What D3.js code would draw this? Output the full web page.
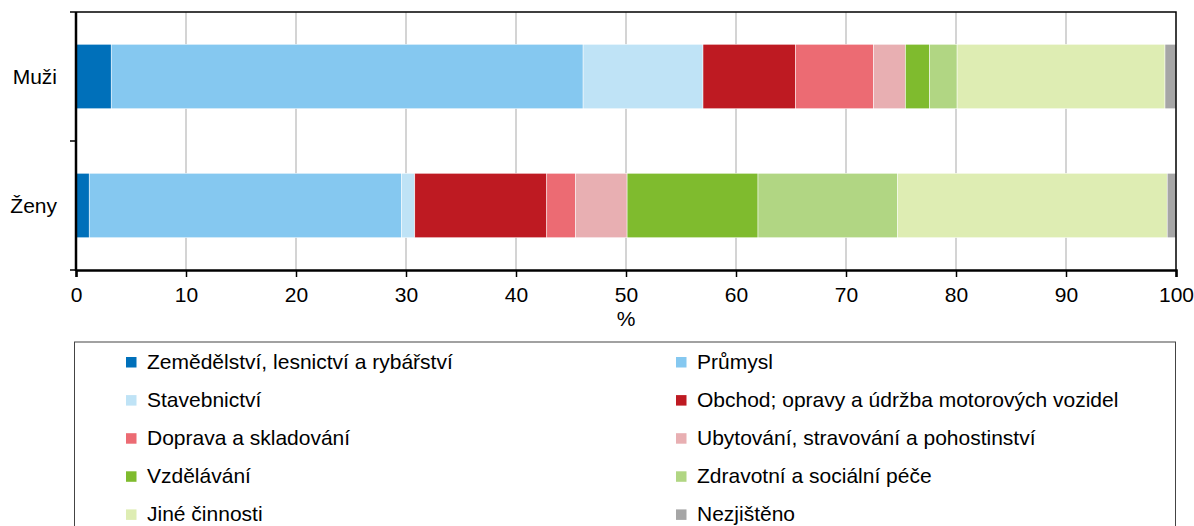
<!DOCTYPE html>
<html>
<head>
<meta charset="utf-8">
<script src="https://cdn.jsdelivr.net/npm/d3@7"></script>
<style>
  body { margin: 0; background: #fff; }
  svg { font-family: "Liberation Sans", Arial, sans-serif; }
</style>
</head>
<body>
<svg id="chart" width="1194" height="526"></svg>
<script>
// share of employed by sector, %
var groups = ["Muži", "Ženy"];
var sectors = [
  "Zemědělství, lesnictví a rybářství",
  "Průmysl",
  "Stavebnictví",
  "Obchod; opravy a údržba motorových vozidel",
  "Doprava a skladování",
  "Ubytování, stravování a pohostinství",
  "Vzdělávání",
  "Zdravotní a sociální péče",
  "Jiné činnosti",
  "Nezjištěno"
];
var muzi = [3.2, 42.9, 10.9, 8.4, 7.1, 2.9, 2.2, 2.5, 18.9, 1.0];
var zeny = [1.2, 28.4, 1.2, 12.0, 2.6, 4.7, 11.9, 12.7, 24.5, 0.8];
var colors = ["#0070ba", "#85c8f0", "#bfe3f6", "#be1a22", "#ec6b73",
              "#e8afb2", "#7fbb2e", "#b1d683", "#deedb3", "#a6a6a6"];
var xTicks = [0, 10, 20, 30, 40, 50, 60, 70, 80, 90, 100];

var svg = d3.select("#chart");
var plotLeft = 76, plotRight = 1176, plotTop = 12, plotBottom = 270;
var fontSize = 21;

var x = d3.scaleLinear().domain([0, 100]).range([plotLeft, plotRight]);
var y = d3.scaleBand().domain(groups).range([plotTop, plotBottom])
  .paddingInner(0.5).paddingOuter(0.25);
var color = d3.scaleOrdinal().domain(sectors).range(colors);

// rows for the stack
var rows = groups.map(function(g, gi) {
  var r = { group: g };
  var vals = gi == 0 ? muzi : zeny;
  sectors.forEach(function(s, i) { r[s] = vals[i]; });
  return r;
});
var series = d3.stack().keys(sectors)(rows);

// grid lines
svg.append("g").selectAll("line")
  .data(xTicks.slice(1, -1))
  .enter().append("line")
  .attr("x1", function(d) { return x(d); })
  .attr("x2", function(d) { return x(d); })
  .attr("y1", plotTop).attr("y2", plotBottom)
  .attr("stroke", "#c6c6c6")
  .attr("stroke-width", 1.5);

// bars
svg.append("g").selectAll("g")
  .data(series)
  .enter().append("g")
  .attr("fill", function(d) { return color(d.key); })
  .selectAll("rect")
  .data(function(d) { return d; })
  .enter().append("rect")
  .attr("x", function(d) { return x(d[0]); })
  .attr("width", function(d) { return x(d[1]) - x(d[0]); })
  .attr("y", function(d) { return y(d.data.group); })
  .attr("height", y.bandwidth())
  .attr("stroke", "#fff")
  .attr("stroke-width", 0.5);

// frame top + right
svg.append("path")
  .attr("d", "M" + plotLeft + "," + plotTop + "H" + plotRight + "V" + plotBottom)
  .attr("fill", "none")
  .attr("stroke", "#000")
  .attr("stroke-width", 1.5);

// x axis
var xAxis = svg.append("g")
  .attr("transform", "translate(0," + plotBottom + ")")
  .call(d3.axisBottom(x).tickValues(xTicks).tickSize(7).tickPadding(10).tickFormat(d3.format("d")));
xAxis.select(".domain").attr("stroke-width", 2.5);
xAxis.selectAll(".tick line").attr("stroke-width", 1.5);
xAxis.selectAll("text").attr("font-size", fontSize).attr("fill", "#000")
  .attr("font-family", "Liberation Sans, Arial, sans-serif");

svg.append("text")
  .attr("x", x(50)).attr("y", 326)
  .attr("text-anchor", "middle")
  .attr("font-size", fontSize)
  .text("%");

// y axis: ticks on the band edges, labels on the centres
var yAxis = svg.append("g").attr("transform", "translate(" + plotLeft + ",0)");
yAxis.append("line")
  .attr("x1", 0).attr("x2", 0)
  .attr("y1", plotTop).attr("y2", plotBottom + 1)
  .attr("stroke", "#000").attr("stroke-width", 2.5);
var edges = [plotTop].concat(groups.map(function(g) { return y(g) + y.step() * 0.75; }));
yAxis.selectAll(".edge")
  .data(edges)
  .enter().append("line")
  .attr("x1", -6).attr("x2", 0)
  .attr("y1", function(d) { return d; })
  .attr("y2", function(d) { return d; })
  .attr("stroke", "#000").attr("stroke-width", 1.5);
yAxis.selectAll(".lab")
  .data(groups)
  .enter().append("text")
  .attr("x", -19)
  .attr("y", function(d) { return y(d) + y.bandwidth() / 2; })
  .attr("dy", "0.35em")
  .attr("text-anchor", "end")
  .attr("font-size", fontSize)
  .text(function(d) { return d; });

// legend
var legend = svg.append("g");
legend.append("rect")
  .attr("x", 74.5).attr("y", 342)
  .attr("width", 1101).attr("height", 220)
  .attr("fill", "none")
  .attr("stroke", "#444").attr("stroke-width", 1);

var item = legend.selectAll(".item")
  .data(sectors)
  .enter().append("g")
  .attr("transform", function(d, i) {
    var col = i % 2, row = Math.floor(i / 2);
    return "translate(" + (col == 0 ? 126 : 676) + "," + (362 + row * 38.1) + ")";
  });
item.append("rect")
  .attr("x", 0).attr("y", -5)
  .attr("width", 10.5).attr("height", 10.5)
  .attr("fill", function(d) { return color(d); });
item.append("text")
  .attr("x", 21).attr("dy", "0.33em")
  .attr("font-size", fontSize)
  .text(function(d) { return d; });
</script>
</body>
</html>
